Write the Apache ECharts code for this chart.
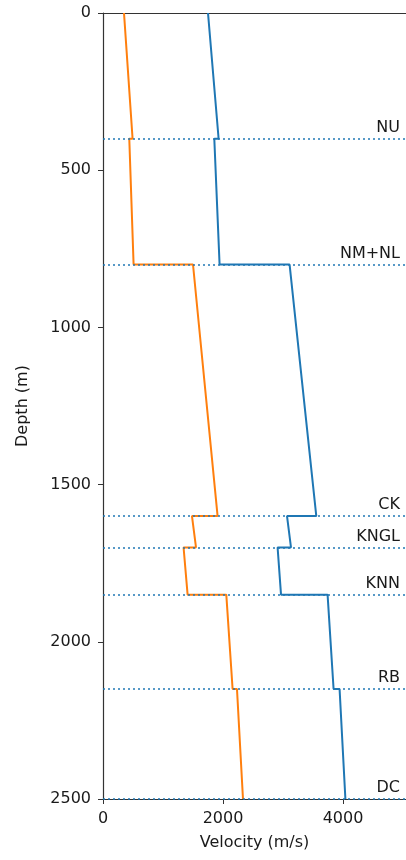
<!DOCTYPE html>
<html>
<head>
<meta charset="utf-8">
<script src="https://cdn.jsdelivr.net/npm/echarts@6/dist/echarts.min.js"></script>
<style>
  html, body { margin: 0; padding: 0; background: #fff; }
  #chart { width: 406px; height: 860px; }
</style>
</head>
<body>
<div id="chart"></div>
<script>
// layers, top and bottom depth (m)
var layerTops    = [0, 400, 800, 1600, 1700, 1850, 2150];
var layerBottoms = [400, 800, 1600, 1700, 1850, 2150, 2500];
// P velocity (blue) at top / bottom of each layer
var vpTop    = [1750, 1855, 3110, 3067, 2910, 3743, 3943];
var vpBottom = [1927, 1943, 3555, 3133, 2967, 3843, 4040];
// S velocity (orange)
var vsTop    = [350, 438, 1500, 1483, 1343, 2055, 2233];
var vsBottom = [493, 510, 1910, 1550, 1410, 2160, 2333];
// horizons
var horizonNames  = ['NU', 'NM+NL', 'CK', 'KNGL', 'KNN', 'RB', 'DC'];
var horizonDepths = [400, 800, 1600, 1700, 1850, 2150, 2500];

function profile(top, bottom) {
    var pts = [];
    for (var i = 0; i < layerTops.length; i++) {
        pts.push([top[i], layerTops[i]]);
        pts.push([bottom[i], layerBottoms[i]]);
    }
    return pts;
}

var font = 'DejaVu Sans';
var textColor = '#1a1a1a';
var axisColor = '#333';
var plain = function (v) { return String(v); };

var myChart = echarts.init(document.getElementById('chart'));

var option = {
    animation: false,
    grid: { left: 103, right: 0, top: 13, bottom: 61 },
    xAxis: [{
        type: 'value',
        min: 0,
        max: 5050,
        interval: 2000,
        name: 'Velocity (m/s)',
        nameLocation: 'middle',
        nameGap: 36,
        nameTextStyle: { fontFamily: font, fontSize: 16, color: textColor },
        axisLine: { show: true, onZero: false, lineStyle: { color: axisColor, width: 1.2 } },
        axisTick: { show: true, length: 5, lineStyle: { color: axisColor } },
        axisLabel: { fontFamily: font, fontSize: 16, color: textColor, margin: 12, showMaxLabel: false, formatter: plain },
        splitLine: { show: false }
    }, {
        // top spine only
        type: 'value',
        position: 'top',
        min: 0,
        max: 5050,
        axisLine: { show: true, onZero: false, lineStyle: { color: axisColor, width: 1.2 } },
        axisTick: { show: false },
        axisLabel: { show: false },
        splitLine: { show: false }
    }],
    yAxis: {
        type: 'value',
        inverse: true,
        min: 0,
        max: 2500,
        interval: 500,
        name: 'Depth (m)',
        nameLocation: 'middle',
        nameGap: 72,
        nameTextStyle: { fontFamily: font, fontSize: 16, color: textColor },
        axisLine: { show: true, onZero: false, lineStyle: { color: axisColor, width: 1.2 } },
        axisTick: { show: true, length: 5, lineStyle: { color: axisColor } },
        axisLabel: { fontFamily: font, fontSize: 16, color: textColor, margin: 12, formatter: plain },
        splitLine: { show: false }
    },
    series: [
        {
            name: 'horizons',
            type: 'line',
            data: [],
            z: 1,
            markLine: {
                silent: true,
                symbol: ['none', 'none'],
                lineStyle: { color: 'rgba(31,119,180,0.75)', width: 2, type: [2, 3] },
                label: {
                    show: true,
                    position: 'insideEndTop',
                    formatter: '{b}',
                    fontFamily: font,
                    fontSize: 16,
                    color: textColor,
                    distance: [6, 3]
                },
                data: horizonNames.map(function (n, i) {
                    return { name: n, yAxis: horizonDepths[i] };
                })
            }
        },
        {
            name: 'Vp',
            type: 'line',
            data: profile(vpTop, vpBottom),
            showSymbol: false,
            z: 3,
            lineStyle: { color: '#1f77b4', width: 2 }
        },
        {
            name: 'Vs',
            type: 'line',
            data: profile(vsTop, vsBottom),
            showSymbol: false,
            z: 3,
            lineStyle: { color: '#ff7f0e', width: 2 }
        }
    ]
};
myChart.setOption(option);
</script>
</body>
</html>
